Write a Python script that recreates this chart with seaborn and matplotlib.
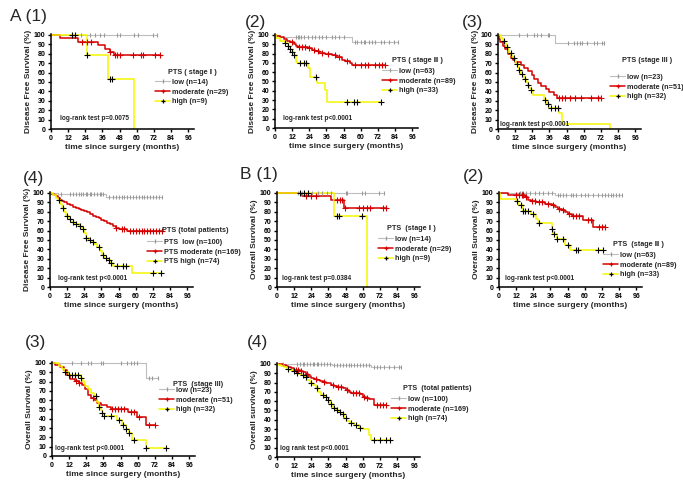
import numpy as np
import pandas as pd
import matplotlib
matplotlib.use('Agg')
import matplotlib.pyplot as plt
from matplotlib.lines import Line2D
import seaborn as sns

# ---------------- data (time in months, survival in %) ----------------
# A(1) DFS stage I
a1_low_t = []
a1_low_s = []
a1_low_c = [15, 17, 21, 27, 31, 34, 37, 46, 48, 58, 61, 71, 74]
a1_mod_t = [6, 19, 33, 38, 41, 44]
a1_mod_s = [96.5, 92.5, 89, 85, 82, 78.5]
a1_mod_c = [22, 25, 28, 41, 45, 46, 48, 57, 63, 64, 73, 76]
a1_high_t = [25, 40, 58]
a1_high_s = [79, 53.5, 0]
a1_high_c = [15, 17, 25.5, 41, 42.5]

# A(2) DFS stage II
a2_low_t = [3.5, 54]
a2_low_s = [98, 92.5]
a2_low_c = [15, 16, 17, 18, 20, 23, 26, 28, 31, 33, 36, 40, 42, 45, 48, 56, 57, 60, 62, 63, 66, 68, 70, 74, 76, 80, 83, 86]
a2_mod_t = [1, 3.5, 6, 8.7, 10.5, 13, 14.5, 16.4, 23.4, 25.8, 28, 31, 35, 40, 43, 47, 49, 52.7, 54]
a2_mod_s = [99, 97.5, 96, 94, 92, 90.5, 88, 87, 85.5, 84, 82.5, 81, 79.5, 78, 76, 73.5, 71.5, 69.5, 67.5]
a2_mod_c = [12, 17, 19, 21, 24, 27, 30, 33, 37, 42, 45, 50, 56, 60, 63, 65, 70, 73, 75, 77]
a2_high_t = [1, 3.5, 7, 9.4, 10.5, 12, 13.3, 14.5, 15.2, 23.4, 24.6, 29.7, 35, 36.3]
a2_high_s = [97, 94, 91, 88, 85, 82, 78.5, 72, 69.5, 65, 55, 48.5, 41, 27.5]
a2_high_c = [7, 9.4, 10.5, 12, 13.3, 17.5, 20, 22, 28.8, 50, 55, 57, 74]

# A(3) DFS stage III
a3_low_t = [40]
a3_low_s = [91]
a3_low_c = [15, 20, 25, 27, 30, 35, 36, 49, 53, 55.5, 57.5, 59, 62, 67, 69, 73, 74]
a3_mod_t = [0.5, 1.6, 3.5, 5, 7, 8.8, 10.4, 12, 16, 18.5, 21, 23.6, 25.5, 27.8, 30, 33.5, 36, 39, 41]
a3_mod_s = [96, 93, 88, 85, 80, 75, 73, 71, 68, 65, 62, 57, 53, 49, 46, 43, 39, 36, 33]
a3_mod_c = [43, 45, 47, 50, 54, 58, 65, 70, 72]
a3_high_t = [2.3, 3.5, 4.6, 5.8, 7, 8, 9.3, 10.4, 11.6, 12.7, 14, 15, 16.2, 17.4, 18.5, 19.7, 20.8,
             22, 23, 24.3, 32, 34, 36, 43, 44.5, 78.5]
a3_high_s = [97, 94, 91, 87.5, 84, 81, 78, 75, 72, 69, 66, 62.5, 59, 56, 53, 50, 47,
             44, 41, 36, 31, 27, 22.5, 16.5, 5.5, 0]
a3_high_c = [4, 6, 9, 11, 13, 15, 17, 19, 21, 23, 33, 35, 37, 40, 42]

# A(4) DFS total patients
a4_low_t = [5.8, 39]
a4_low_s = [99, 96]
a4_low_c = [8, 14, 16, 18, 20, 22, 23, 25, 26, 28, 29, 31, 33, 35, 36, 37, 41, 44, 46, 48, 50, 52,
            54, 56, 58, 60, 62, 64, 66, 68, 70, 72, 74, 76, 78]
a4_mod_t = [1, 2.5, 4, 5.5, 7, 8.5, 10, 12, 14, 16, 18, 20, 22, 24, 26, 28, 30, 32, 34, 36, 38, 40,
            42, 44, 46, 48, 54]
a4_mod_s = [99, 98, 96.5, 95, 93, 91.5, 90, 88, 87, 85.5, 84, 83, 82, 81, 79.5, 77.5, 76, 74.5, 73,
            71.5, 70, 68.5, 66.5, 65, 63, 61.5, 59.5]
a4_mod_c = [46, 50, 52, 56, 58, 60, 62, 64, 66, 68, 70, 72, 74, 76, 78]
a4_high_t = [2, 4, 5.5, 7, 8.5, 10, 11.5, 13, 14.5, 17, 20, 22.5, 24, 25, 27, 29, 31, 33, 35, 36.5,
             38, 40, 42, 44, 57.5]
a4_high_s = [98, 95, 92, 88, 84, 80, 76, 72, 69, 67, 65, 62, 57, 52, 50, 48, 46, 42, 38, 34,
             31, 29, 26, 22.5, 15]
a4_high_c = [6, 9, 12, 14, 16, 18, 21, 23, 25.5, 28, 30, 34, 37, 39, 41, 43, 47, 51, 53, 72, 77.5]

# B(1) OS stage I
b1_low_t = []
b1_low_s = []
b1_low_c = [15, 17.5, 21.5, 24.5, 28.5, 31.5, 35, 37.5, 48, 48.7, 59.7, 61.4, 71.4, 74.5]
b1_mod_t = [17.5, 37.5, 47]
b1_mod_s = [96.5, 92.5, 84.5]
b1_mod_c = [20, 24, 27, 41.7, 44, 45.7, 47.3, 57, 60, 62.8, 65, 73.8, 76]
b1_high_t = [40, 63.2]
b1_high_s = [75, 0]
b1_high_c = [16.4, 19.2, 22, 41.7, 43.3, 59.7]

# B(2) OS stage II
b2_low_t = [39]
b2_low_s = [98]
b2_low_c = [15, 16, 17, 19, 22, 25, 28, 31, 34, 37, 41, 43, 45, 47, 50, 52, 54, 57, 60, 62, 66, 69,
            72, 74, 76, 78, 80, 82, 84, 86]
b2_mod_t = [6.3, 18, 20.4, 22.7, 26, 32, 36.8, 39, 41.5, 43.8, 46, 48.5, 50.8, 59, 66]
b2_mod_s = [97.5, 96, 93, 91, 90, 88.5, 87, 85, 83, 81.5, 79.5, 77.5, 76, 71.5, 63.5]
b2_mod_c = [12, 14, 16, 17, 19, 23, 25, 28, 30, 34, 38, 42, 45, 49, 52, 54, 56, 62, 64, 70, 72, 74]
b2_high_t = [0.5, 12.2, 13.3, 16.9, 22.7, 25, 26.2, 27.4, 36.8, 38, 40.3, 46, 49.6]
b2_high_s = [94, 91, 87.5, 81, 78, 75, 72, 68, 62, 56, 51, 45, 39]
b2_high_c = [12.5, 15.5, 17, 18.5, 20, 23.5, 28, 37, 38.5, 40.5, 45, 48.5, 54, 55.5, 69, 73]

# B(3) OS stage III
b3_low_t = [65.6]
b3_low_s = [83.5]
b3_low_c = [14, 20, 25, 27.4, 34.4, 35.8, 48, 52.2, 55.5, 57.4, 59.7, 68, 70, 73.8]
b3_mod_t = [2.3, 5.9, 8.2, 10.5, 12.9, 16.4, 18.7, 21, 23.4, 25, 27, 29.3, 31.6, 34, 38.2, 41, 53,
            59.5, 65.6]
b3_mod_s = [98, 96, 92, 87.5, 83, 81, 78, 76, 72, 66, 62, 60, 57, 55, 53, 51, 47, 41.5, 33]
b3_mod_c = [17, 19, 29, 42, 44, 46, 48, 50, 55, 57, 61, 68, 72]
b3_high_t = [4.7, 7, 9.4, 11.7, 20, 21, 22.2, 23.4, 25, 27, 29.3, 31.6, 32.8, 34, 35, 36.3, 45.7, 49,
             51.5, 54, 56.2, 65.6]
b3_high_s = [97, 94, 90, 87.5, 84, 81, 78, 75, 72, 68, 64, 58, 53, 49, 46, 43, 39, 33, 29, 25, 17, 8.5]
b3_high_c = [9.4, 12, 14, 16, 18, 20, 31, 33, 35, 36.3, 41, 47, 49.5, 52, 54, 57, 65.6, 79.6]

# B(4) OS total patients
b4_low_t = [1, 38.8, 66]
b4_low_s = [99.5, 98.5, 97]
b4_low_c = [4, 14, 16, 18, 19, 21, 23, 25, 26, 28, 29, 31, 33, 35, 37, 40, 42, 44, 46, 48, 50, 52,
            54, 56, 58, 60, 62, 64, 68, 70, 72, 75, 78, 82, 85, 87]
b4_mod_t = [2, 4, 6, 8, 10, 12, 14, 16, 18, 20, 22, 24, 26, 28, 30, 32, 34, 36, 38, 40, 42, 44, 46,
            48, 50, 52, 58, 60, 62, 64, 68]
b4_mod_s = [99.5, 99, 98, 97, 95.5, 94, 93, 92, 91, 89, 87, 85, 84, 83, 82, 81, 80, 79, 77.5, 76.5,
            75.5, 75, 74, 72, 70, 69, 68, 65, 63, 62, 56]
b4_mod_c = [13, 15, 17, 21, 27, 33, 39, 43, 45, 49, 53, 55, 57, 61, 63, 70, 72, 74, 76]
b4_high_t = [1, 3, 5, 7, 9, 11, 13, 15, 17, 19, 21, 23, 25, 27, 29, 31, 33, 35, 37, 39, 41, 43, 45,
             47, 49, 51, 54, 57, 60, 64, 66]
b4_high_s = [99, 97.5, 96.5, 95, 93.5, 92, 90.5, 89, 88, 86, 83, 80, 77, 74, 70, 67, 64.5, 61, 57,
             53, 50, 48, 46, 42, 39, 36, 34, 31, 30, 24, 18.5]
b4_high_c = [8, 12, 14, 18, 20, 24, 28, 32, 34, 36, 38, 40, 42, 44, 46, 48, 52, 55, 58, 68, 72, 76, 79]

x_ticks = [0, 12, 24, 36, 48, 60, 72, 84, 96]
y_ticks = [0, 10, 20, 30, 40, 50, 60, 70, 80, 90, 100]

# ---------------- style ----------------
sns.set_style('ticks')
plt.rcParams['font.family'] = ['Liberation Sans', 'DejaVu Sans']

W, H = 683, 488
fig = plt.figure(figsize=(W / 100, H / 100), dpi=100)

LOW = '#bdbdbd'
MOD = '#d40000'
HIGH = '#f5f500'


def km_frame(t, s, c):
    end = max(list(t) + list(c))
    return pd.DataFrame({'time': [0] + list(t) + [end],
                         'surv': [100] + list(s) + [s[-1] if s else 100]})


def cens_frame(t, s, c):
    tt = np.array([0] + list(t))
    ss = np.array([100] + list(s))
    idx = np.searchsorted(tt, c, side='right') - 1
    return pd.DataFrame({'time': c, 'surv': ss[idx]})


def draw_panel(ax, curves):
    # curves: list of (t, s, c, line colour, line width, marker, marker colour, marker size)
    for t, s, c, col, lw, mk, mcol, ms in curves:
        sns.lineplot(data=km_frame(t, s, c), x='time', y='surv', drawstyle='steps-post',
                     estimator=None, sort=False, color=col, lw=lw, ax=ax, clip_on=False)
        sns.scatterplot(data=cens_frame(t, s, c), x='time', y='surv', marker=mk, s=ms,
                        color=mcol, linewidth=0.8, ax=ax, clip_on=False, zorder=5)


def px_axes(l, t, b, w=143):
    return fig.add_axes([l / W, 1 - b / H, w / W, (b - t) / H])


panels = [
    # label, label xy, axes (l, t, b), data, ylabel, legend title, title xy, labels, legend xy, p text, p xy
    ('A (1)', (10, 16), (51, 34, 129),
     [(a1_low_t, a1_low_s, a1_low_c), (a1_mod_t, a1_mod_s, a1_mod_c), (a1_high_t, a1_high_s, a1_high_c)],
     'Disease Free Survival (%)', 'PTS ( stage \u2160 )', (168, 73),
     ['low (n=14)', 'moderate (n=29)', 'high (n=9)'], (155, 92), 'log-rank test p=0.0075', (60, 118)),
    ('(2)', (245, 22), (275, 34, 128),
     [(a2_low_t, a2_low_s, a2_low_c), (a2_mod_t, a2_mod_s, a2_mod_c), (a2_high_t, a2_high_s, a2_high_c)],
     'Disease Free Survival (%)', 'PTS ( stage \u2161 )', (392, 61),
     ['low (n=63)', 'moderate (n=89)', 'high (n=33)'], (382, 81), 'log-rank test p<0.0001', (283, 118)),
    ('(3)', (462, 22), (498, 34, 129),
     [(a3_low_t, a3_low_s, a3_low_c), (a3_mod_t, a3_mod_s, a3_mod_c), (a3_high_t, a3_high_s, a3_high_c)],
     'Disease Free Survival (%)', 'PTS (stage III )', (622, 61),
     ['low (n=23)', 'moderate (n=51)', 'high (n=32)'], (610, 87), 'log-rank test p<0.0001', (500, 124)),
    ('(4)', (23, 178), (50, 192, 287),
     [(a4_low_t, a4_low_s, a4_low_c), (a4_mod_t, a4_mod_s, a4_mod_c), (a4_high_t, a4_high_s, a4_high_c)],
     'Disease Free Survival (%)', 'PTS (total patients)', (162, 231),
     ['PTS  low (n=100)', 'PTS moderate (n=169)', 'PTS high (n=74)'], (147, 252),
     'log-rank test p<0.0001', (58, 278)),
    ('B (1)', (240, 175), (277, 192, 287),
     [(b1_low_t, b1_low_s, b1_low_c), (b1_mod_t, b1_mod_s, b1_mod_c), (b1_high_t, b1_high_s, b1_high_c)],
     'Overall Survival (%)', 'PTS  (stage \u2160 )', (387, 229),
     ['low (n=14)', 'moderate (n=29)', 'high (n=9)'], (378, 249), 'log-rank test p=0.0384', (282, 278)),
    ('(2)', (463, 176), (499, 192, 287),
     [(b2_low_t, b2_low_s, b2_low_c), (b2_mod_t, b2_mod_s, b2_mod_c), (b2_high_t, b2_high_s, b2_high_c)],
     'Overall Survival (%)', 'PTS  (stage \u2161 )', (613, 245),
     ['low (n=63)', 'moderate (n=89)', 'high (n=33)'], (603, 265), 'log-rank test p<0.0001', (505, 278)),
    ('(3)', (25, 343), (52, 362, 456),
     [(b3_low_t, b3_low_s, b3_low_c), (b3_mod_t, b3_mod_s, b3_mod_c), (b3_high_t, b3_high_s, b3_high_c)],
     'Overall Survival (%)', 'PTS  (stage III)', (173, 384),
     ['low (n=23)', 'moderate (n=51)', 'high (n=32)'], (159, 400), 'log-rank test p<0.0001', (55, 448)),
    ('(4)', (247, 342), (277, 363, 457),
     [(b4_low_t, b4_low_s, b4_low_c), (b4_mod_t, b4_mod_s, b4_mod_c), (b4_high_t, b4_high_s, b4_high_c)],
     'Overall survival (%)', 'PTS  (total patients)', (403, 388),
     ['low (n=100)', 'moderate (n=169)', 'high (n=74)'], (391, 409), 'log rank test p<0.0001', (280, 449)),
]

styles = [(LOW, 0.8, '|', '#9a9a9a', 6),
          (MOD, 1.1, '+', MOD, 16),
          (HIGH, 1.1, '+', 'black', 16)]

for (lab, lab_xy, (l, t, b), data, ylab, ltitle, ltitle_xy, labels, leg_xy, ptxt, p_xy) in panels:
    ax = px_axes(l, t, b)
    draw_panel(ax, [d + st for d, st in zip(data, styles)])
    ax.set_xlim(0, 100)
    ax.set_ylim(0, 101)
    ax.set_xticks(x_ticks)
    ax.set_yticks(y_ticks)
    ax.tick_params(direction='out', length=2.5, width=1, pad=1.5, labelsize=5, colors='black')
    for tl in ax.get_xticklabels() + ax.get_yticklabels():
        tl.set_fontweight('bold')
    for sp in ['left', 'bottom']:
        ax.spines[sp].set_linewidth(1.1)
        ax.spines[sp].set_color('black')
    sns.despine(ax=ax)
    ax.set_xlabel('time since surgery (months)', fontsize=6, fontweight='bold', labelpad=2)
    ax.set_ylabel(ylab, fontsize=6, fontweight='bold', labelpad=1)

    fig.text(lab_xy[0] / W, 1 - lab_xy[1] / H, lab, fontsize=12.5, ha='left', va='center')
    fig.text(ltitle_xy[0] / W, 1 - ltitle_xy[1] / H, ltitle, fontsize=5.2, fontweight='bold',
             ha='left', va='center')
    fig.text(p_xy[0] / W, 1 - p_xy[1] / H, ptxt, fontsize=4.7, fontweight='bold',
             ha='left', va='center')

    handles = [Line2D([], [], color=col, lw=lw, marker=mk, markersize=3.5 if mk == '+' else 3,
                      markeredgecolor=mcol, markeredgewidth=0.9)
               for col, lw, mk, mcol, ms in styles]
    fig.legend(handles=handles, labels=labels, loc='center left',
               bbox_to_anchor=(leg_xy[0] / W, 1 - leg_xy[1] / H), frameon=False,
               prop={'size': 5.2, 'weight': 'bold'}, handlelength=2.1, handletextpad=0.3,
               labelspacing=0.35, borderpad=0, borderaxespad=0)

fig.savefig('out.png', dpi=100)
